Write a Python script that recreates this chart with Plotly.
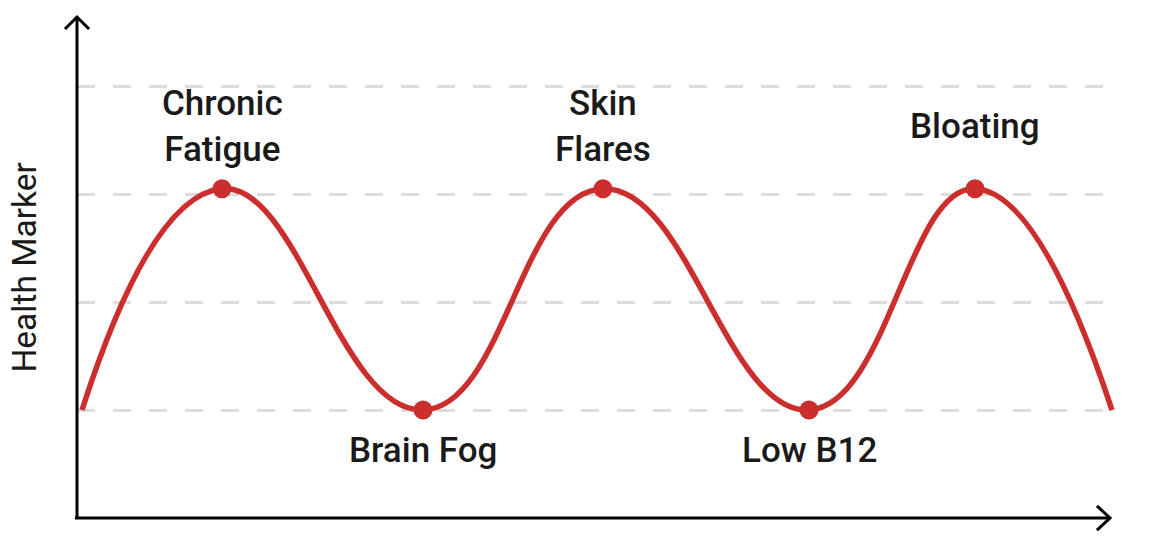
import plotly.graph_objects as go

# key points along the curve (x in arbitrary time units, y in health-marker units)
curve_x = [0.05, 1.45, 3.46, 5.26, 7.32, 8.98, 10.35]
curve_y = [1.0, 3.05, 1.0, 3.05, 1.0, 3.05, 1.0]

# labelled events (peaks and troughs)
event_x = [1.45, 3.46, 5.26, 7.32, 8.98]
event_y = [3.05, 1.0, 3.05, 1.0, 3.05]
event_labels = ['Chronic<br>Fatigue', 'Brain Fog', 'Skin<br>Flares', 'Low B12', 'Bloating']
event_is_peak = [True, False, True, False, True]

grid_vals = [1, 2, 3, 4]

RED = '#cc2e2e'
FONT = 'Roboto'

fig = go.Figure()
fig.add_trace(go.Scatter(x=curve_x, y=curve_y, mode='lines',
                         line=dict(color=RED, width=5.5, shape='spline', smoothing=1.3),
                         hoverinfo='skip'))
fig.add_trace(go.Scatter(x=event_x, y=event_y, mode='markers',
                         marker=dict(color=RED, size=19),
                         text=[t.replace('<br>', ' ') for t in event_labels],
                         hovertemplate='%{text}<extra></extra>'))

for x, y, t, peak in zip(event_x, event_y, event_labels, event_is_peak):
    fig.add_annotation(x=x, y=y, text=t, showarrow=False, xanchor='center', yanchor='middle',
                       yshift=62 if peak else -40,
                       font=dict(family=FONT, size=35, color='#1a1a1a', weight=500))

# y-axis title
fig.add_annotation(xref='paper', yref='paper', x=-0.051, y=0.5, text='Health Marker',
                   textangle=-90, showarrow=False, xanchor='center', yanchor='middle',
                   borderpad=0,
                   font=dict(family=FONT, size=33.5, color='#1a1a1a'))

# axis lines with open arrowheads
ax = dict(type='line', line=dict(color='black', width=3), layer='above')
fig.add_shape(xref='paper', yref='paper', x0=0, y0=0, x1=0, y1=1, **ax)
fig.add_shape(xref='paper', yref='paper', x0=-0.002, y0=0, x1=1033 / 1038, y1=0, **ax)
fig.add_shape(type='path', xref='paper', yref='paper',
              path='M -0.0116,0.976 L 0,1 L 0.0116,0.976',
              line=dict(color='black', width=3), layer='above')
fig.add_shape(type='path', xref='paper', yref='paper',
              path='M 0.9826,0.024 L 0.9952,0 L 0.9826,-0.024',
              line=dict(color='black', width=3), layer='above')

# page body adds an 8px offset, so margins are trimmed on the top/left
fig.update_layout(
    width=1152, height=536,
    margin=dict(l=69, r=45, t=9, b=26),
    paper_bgcolor='white', plot_bgcolor='white',
    showlegend=False,
    xaxis=dict(range=[0, 10.38], showgrid=False, zeroline=False, showticklabels=False,
               showline=False, ticks=''),
    yaxis=dict(range=[0, 4.64], tickvals=grid_vals, showgrid=True, gridcolor='#dcdcdc',
               gridwidth=3, griddash='18px,18px', zeroline=False, showticklabels=False,
               showline=False, ticks=''),
)

fig.write_html('out.html')
